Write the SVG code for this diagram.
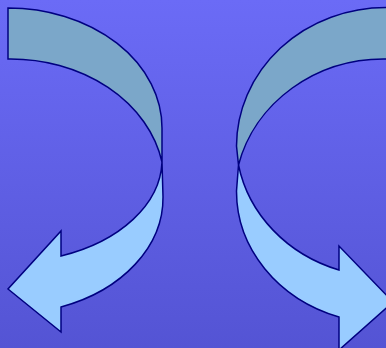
<svg xmlns="http://www.w3.org/2000/svg" width="386" height="348" viewBox="0 0 386 348">
  <defs>
    <linearGradient id="bg" x1="0" y1="0" x2="0" y2="1">
      <stop offset="0" stop-color="#6B6BF6"/>
      <stop offset="1" stop-color="#5454D4"/>
    </linearGradient>
  </defs>
  <style>
    .back { fill: #7BA7C9; stroke: #000080; stroke-width: 1.5; stroke-linejoin: miter; }
    .front { fill: #99CCFF; stroke: #000080; stroke-width: 1.5; stroke-linejoin: miter; }
  </style>
  <rect x="0" y="0" width="386" height="348" fill="url(#bg)"/>
  <g id="arrow-left">
    <path class="back" d="M8,8 A154,120 0 0 1 162,128 L162,162 A154,126 0 0 0 8,59 Z"/>
    <path class="front" d="M162,162 L163,197 A155,116 0 0 1 61,307 L61,332 L8,289 L61,231 L61,256 A154,103 0 0 0 162,162 Z"/>
  </g>
  <g id="arrow-right">
    <path class="back" d="M394,7.5 L386,7.5 A149.5,139 0 0 0 236.5,146 L238.5,165 A149.5,139 0 0 1 386,59 L394,59 Z"/>
    <path class="front" d="M238.5,165 L236.5,191 A149.5,132.4 0 0 0 339,317 L339,350 L393,302 L339,246 L339,270 A149.5,137 0 0 1 238.5,165 Z"/>
  </g>
  <g id="connectors"/>
</svg>
